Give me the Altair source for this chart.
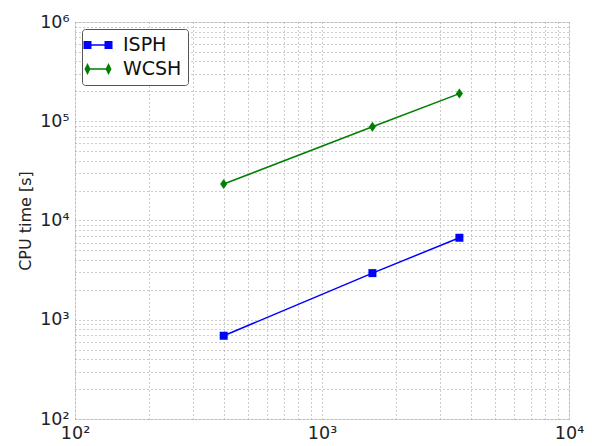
import altair as alt
import pandas as pd

methods = ["ISPH", "WCSH"]
n_particles = [400, 1600, 3600]
isph_time = [690, 2950, 6700]
wcsh_time = [23300, 88000, 190000]

rows = []
for n, t in zip(n_particles, isph_time):
    rows.append({"n": n, "t": t, "method": "ISPH"})
for n, t in zip(n_particles, wcsh_time):
    rows.append({"n": n, "t": t, "method": "WCSH"})
df = pd.DataFrame(rows)

x_ticks = [m * 10 ** k for k in range(2, 4) for m in range(1, 10)] + [10000]
y_ticks = [m * 10 ** k for k in range(2, 6) for m in range(1, 10)] + [1000000]

x_label = ("datum.value == 100 ? '10\u00b2' : datum.value == 1000 ? '10\u00b3' : "
           "datum.value == 10000 ? '10\u2074' : ''")
y_label = ("datum.value == 100 ? '10\u00b2' : datum.value == 1000 ? '10\u00b3' : "
           "datum.value == 10000 ? '10\u2074' : datum.value == 100000 ? '10\u2075' : "
           "datum.value == 1000000 ? '10\u2076' : ''")

axis_common = dict(
    grid=True, gridColor="#9a9a9a", gridDash=[1, 3], gridWidth=1,
    ticks=False, domain=False, labelFont="DejaVu Sans", labelFontSize=17.5,
    labelColor="#222222", labelOverlap=False, labelFlush=False, labelBound=False,
)

legend_line_path = ("M-1.45,-0.4H-0.65V0.4H-1.45Z M0.65,-0.4H1.45V0.4H0.65Z "
                    "M-0.65,-0.07H0.65V0.07H-0.65Z")
legend_diamond_path = ("M-1.05,-0.6L-0.75,0L-1.05,0.6L-1.35,0Z M1.05,-0.6L1.35,0L1.05,0.6L0.75,0Z "
                       "M-0.8,-0.07H0.8V0.07H-0.8Z")

color_scale = alt.Scale(domain=methods, range=["#0000ff", "#007f00"])

x_enc = alt.X("n:Q", scale=alt.Scale(type="log", domain=[100, 10000], nice=False),
              axis=alt.Axis(title=None, values=x_ticks, labelExpr=x_label, labelPadding=5, **axis_common))
y_enc = alt.Y("t:Q", scale=alt.Scale(type="log", domain=[100, 1000000], nice=False),
              axis=alt.Axis(title="CPU time [s]", values=y_ticks, labelExpr=y_label, labelPadding=6,
                            titleFont="DejaVu Sans", titleFontSize=16, titleFontWeight="normal",
                            titleColor="#222222", titlePadding=6, **axis_common))

legend_props = dict(
    title=None, orient="top-left", offset=7, padding=6,
    strokeColor="#555555", fillColor="white", cornerRadius=3,
    labelFont="DejaVu Sans", labelFontSize=19, labelColor="#111111",
    symbolSize=400, rowPadding=4, labelOffset=15, symbolStrokeWidth=0, symbolOpacity=1,
)

legend_layer = alt.Chart(df).mark_point(filled=True, size=0).encode(
    x=x_enc, y=y_enc,
    color=alt.Color("method:N", scale=color_scale, legend=alt.Legend(**legend_props)),
    shape=alt.Shape("method:N", scale=alt.Scale(domain=methods,
                    range=[legend_line_path, legend_diamond_path]),
                    legend=alt.Legend(**legend_props)),
)

base = alt.Chart(df).encode(x=x_enc, y=y_enc,
                            color=alt.Color("method:N", scale=color_scale, legend=None))

line = base.mark_line(strokeWidth=1.5)
squares = base.mark_point(filled=True, size=64, opacity=1, shape="square").transform_filter(
    alt.datum.method == "ISPH")
diamonds = base.mark_point(filled=True, size=70, opacity=1,
                           shape="M0,-1.2L0.85,0L0,1.2L-0.85,0Z").transform_filter(
    alt.datum.method == "WCSH")

chart = (legend_layer + line + squares + diamonds).properties(
    width=494, height=397,
    autosize=alt.AutoSizeParams(type="none"),
    padding={"left": 75, "top": 22, "right": 23, "bottom": 27},
).configure_view(stroke="#333333", strokeWidth=1.2).configure(background="white")

chart.save("out.html", embed_options={"renderer": "svg", "actions": False})
